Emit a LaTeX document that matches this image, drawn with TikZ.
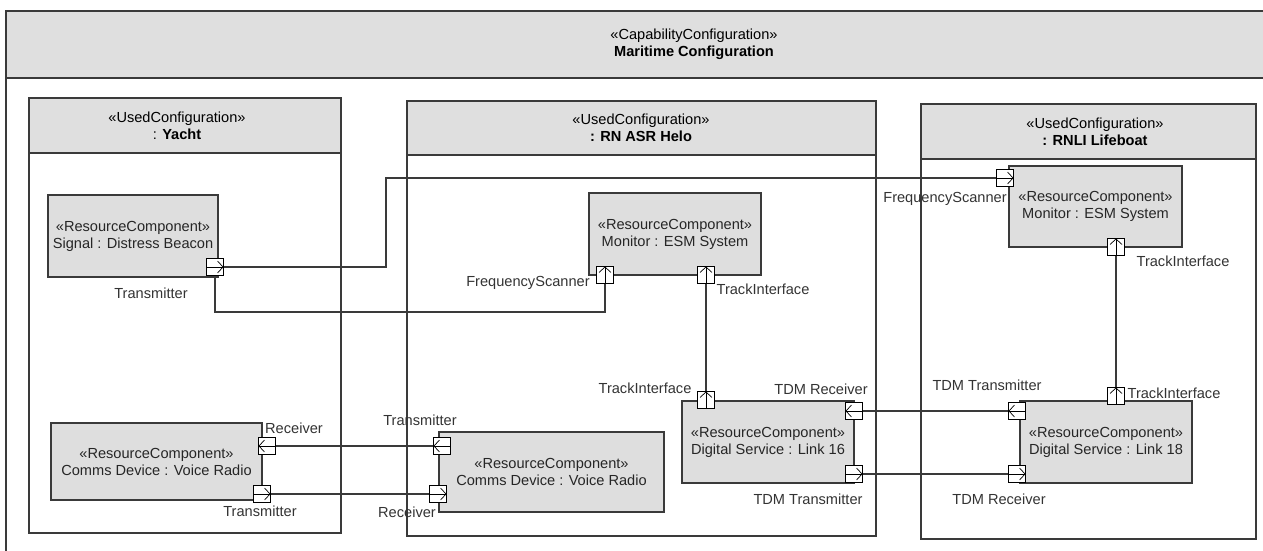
\documentclass[tikz,border=0pt]{standalone}
\usepackage{fontspec}
\setmainfont{Liberation Sans}
\usepackage{tikz}
\usetikzlibrary{arrows.meta}
\definecolor{FrameInk}{HTML}{3A3A3A}
\definecolor{HeadGrey}{HTML}{DFDFDF}
\definecolor{PartGrey}{HTML}{DEDEDE}
\definecolor{LabelInk}{HTML}{333333}
\newcommand{\umlfont}{\fontsize{14.6}{17}\selectfont}

\begin{document}
\begin{tikzpicture}[x=1pt,y=-1pt]
  \clip (0,0) rectangle (1263,550);
  \tikzset{
    mcFrame/.style={draw=FrameInk, line width=1.2pt},
    mcHead/.style={mcFrame, fill=HeadGrey},
    mcTitle/.style={font=\umlfont, text=black, align=center, inner sep=0pt},
    mcPart/.style={
      draw=FrameInk, fill=PartGrey, line width=1.2pt,
      minimum height=82pt, inner sep=0pt,
      font=\umlfont, text=black!85, align=center
    },
    mcPort/.style={draw=black, fill=white, line width=1pt, minimum size=17pt, inner sep=0pt},
    mcGlyph/.style={line width=.7pt, -{Straight Barb[length=5.5pt,width=12pt]}},
    mcPortE/.style={mcPort, path picture={
        \draw[mcGlyph] (path picture bounding box.west) -- (path picture bounding box.east);}},
    mcPortW/.style={mcPort, path picture={
        \draw[mcGlyph] (path picture bounding box.east) -- (path picture bounding box.west);}},
    mcPortN/.style={mcPort, path picture={
        \draw[mcGlyph] (path picture bounding box.south) -- (path picture bounding box.north);}},
    mcWire/.style={draw=FrameInk, line width=1.2pt},
    mcLabel/.style={font=\umlfont, text=LabelInk, inner sep=0pt}
  }

  % frames
  \draw[mcFrame] (6,11) rectangle (1400,580);
  \draw[mcHead] (6,11) rectangle (1400,78);
  \node[mcTitle] (maritime) at (694,44.5) {«CapabilityConfiguration»\\\textbf{Maritime Configuration}};

  \draw[mcFrame] (29,98) rectangle (341,533);
  \draw[mcHead] (29,98) rectangle (341,153);
  \node[mcTitle] (yacht) at (177,125.5) {«UsedConfiguration»\\: \textbf{Yacht}};

  \draw[mcFrame] (407,101) rectangle (876,536);
  \draw[mcHead] (407,101) rectangle (876,155);
  \node[mcTitle] (helo) at (641,128) {«UsedConfiguration»\\\textbf{: RN ASR Helo}};

  \draw[mcFrame] (921,104) rectangle (1256,539);
  \draw[mcHead] (921,104) rectangle (1256,159);
  \node[mcTitle] (lifeboat) at (1095,131.5) {«UsedConfiguration»\\\textbf{: RNLI Lifeboat}};

  % parts
  \node[mcPart, minimum width=170pt] (beacon) at (133,236) {«ResourceComponent»\\Signal : Distress Beacon};
  \node[mcPart, minimum width=172pt] (heloMon) at (675,234) {«ResourceComponent»\\Monitor : ESM System};
  \node[mcPart, minimum width=173pt, minimum height=81pt] (lbMon) at (1095.5,206.5) {«ResourceComponent»\\Monitor : ESM System};
  \node[mcPart, minimum width=172pt] (link16) at (768,442) {«ResourceComponent»\\Digital Service : Link 16};
  \node[mcPart, minimum width=172pt] (link18) at (1106,442) {«ResourceComponent»\\Digital Service : Link 18};
  \node[mcPart, minimum width=211pt, minimum height=77pt] (yachtRadio) at (156.5,461.5) {«ResourceComponent»\\Comms Device : Voice Radio};
  \node[mcPart, minimum width=225pt, minimum height=80pt] (heloRadio) at (551.5,472) {«ResourceComponent»\\Comms Device : Voice Radio};

  % ports
  \node[mcPortE] (beaconTx) at (215,267) {};
  \node[mcPortE] (lbFS) at (1005,178) {};
  \node[mcPortN] (heloFS) at (605,275) {};
  \node[mcPortN] (heloTI) at (706,275) {};
  \node[mcPortN] (lbTI) at (1116,247) {};
  \node[mcPortN] (l16TI) at (706,400) {};
  \node[mcPortW] (l16Rx) at (854,411) {};
  \node[mcPortE] (l16Tx) at (854,474) {};
  \node[mcPortW] (l18Tx) at (1017,411) {};
  \node[mcPortE] (l18Rx) at (1017,474) {};
  \node[mcPortN] (l18TI) at (1116,396) {};
  \node[mcPortW] (yachtRx) at (267,446) {};
  \node[mcPortE] (yachtTx) at (262,494) {};
  \node[mcPortW] (heloRadioTx) at (442,446) {};
  \node[mcPortE] (heloRadioRx) at (438,494) {};

  % port names
  \node[mcLabel] (beaconTxName) at (151,293) {Transmitter};
  \node[mcLabel] (heloFSName) at (528,283) {FrequencyScanner};
  \node[mcLabel] (heloTIName) at (763,289) {TrackInterface};
  \node[mcLabel] (lbFSName) at (945,199) {FrequencyScanner};
  \node[mcLabel] (lbTIName) at (1183,261) {TrackInterface};
  \node[mcLabel] (l16TIName) at (645,388) {TrackInterface};
  \node[mcLabel] (l16RxName) at (821,389) {TDM Receiver};
  \node[mcLabel] (l16TxName) at (808,499) {TDM Transmitter};
  \node[mcLabel] (l18TxName) at (987,385) {TDM Transmitter};
  \node[mcLabel] (l18TIName) at (1174,393) {TrackInterface};
  \node[mcLabel] (l18RxName) at (999,499) {TDM Receiver};
  \node[mcLabel] (yachtRxName) at (294,428) {Receiver};
  \node[mcLabel] (yachtTxName) at (260,511) {Transmitter};
  \node[mcLabel] (heloRadioTxName) at (420,420) {Transmitter};
  \node[mcLabel] (heloRadioRxName) at (407,512) {Receiver};

  % connectors
  \draw[mcWire] (beaconTx.east) -- ++(162,0) |- (lbFS.west);
  \draw[mcWire] (beaconTx.south) -- ++(0,36) -| (heloFS.south);
  \draw[mcWire] (heloTI.south) -- (l16TI.north);
  \draw[mcWire] (lbTI.south) -- (l18TI.north);
  \draw[mcWire] (l16Rx.east) -- (l18Tx.west);
  \draw[mcWire] (l16Tx.east) -- (l18Rx.west);
  \draw[mcWire] (yachtRx.east) -- (heloRadioTx.west);
  \draw[mcWire] (yachtTx.east) -- (heloRadioRx.west);
\end{tikzpicture}
\end{document}
